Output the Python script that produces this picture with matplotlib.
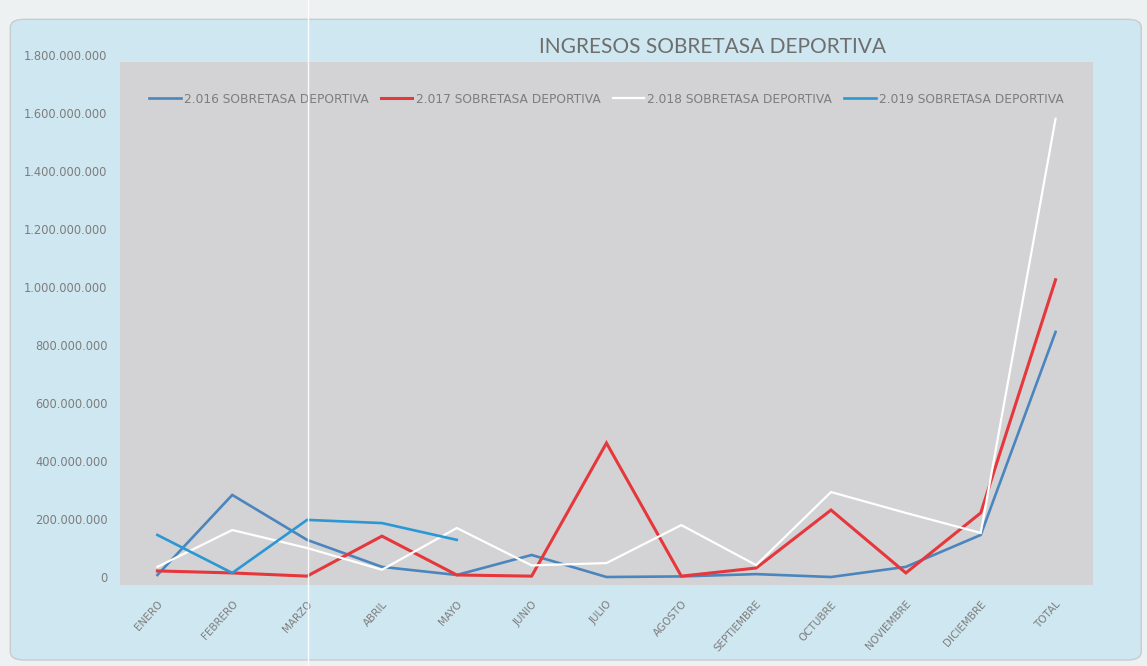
"""
Ingresos sobretasa deportiva 2016-2019, redrawn from a scanned Excel line chart
"""

import matplotlib
matplotlib.use("Agg")
import matplotlib.pyplot as plt
import numpy as np
from matplotlib.patches import FancyBboxPatch, Rectangle
from matplotlib.lines import Line2D

plt.rcParams['font.family'] = ['DejaVu Sans']

# months + total column
meses = ["ENERO", "FEBRERO", "MARZO", "ABRIL", "MAYO", "JUNIO", "JULIO",
         "AGOSTO", "SEPTIEMBRE", "OCTUBRE", "NOVIEMBRE", "DICIEMBRE", "TOTAL"]

# values, in millions of pesos
ingresos_2016 = [7, 283, 128, 35, 7, 76, 0, 2, 10, 0, 35, 145, 845]
ingresos_2017 = [21, 14, 3, 141, 7, 3, 462, 3, 31, 231, 14, 221, 1025]
ingresos_2018 = [35, 162, 100, 25, 169, 40, 48, 179, 41, 293, 221, 152, 1580]
ingresos_2019 = [145, 14, 197, 186, 128]  # only Jan-May reported

y_ticks = [0, 200, 400, 600, 800, 1000, 1200, 1400, 1600, 1800]

series = [
    ("2.016 SOBRETASA DEPORTIVA", ingresos_2016, "#4a86bd", 1.9),
    ("2.017 SOBRETASA DEPORTIVA", ingresos_2017, "#e5373c", 2.2),
    ("2.018 SOBRETASA DEPORTIVA", ingresos_2018, "#ffffff", 1.6),
    ("2.019 SOBRETASA DEPORTIVA", ingresos_2019, "#2b97d4", 1.9),
]

text_grey = "#7d7d7d"


def fmt_miles(v):
    # Spanish style thousands separator
    return f"{v * 1_000_000:,.0f}".replace(",", ".")


def main():
    fig = plt.figure(figsize=(11.47, 6.66), dpi=100)
    fig.patch.set_facecolor("#eef1f1")

    # light blue chart area with rounded corners
    frame = FancyBboxPatch((0.009, 0.009), 0.986, 0.962,
                           boxstyle="round,pad=0,rounding_size=0.012",
                           transform=fig.transFigure, facecolor="#cfe7f0",
                           edgecolor="#c8cccc", linewidth=1.0, zorder=-5)
    fig.patches.append(frame)

    ax = fig.add_axes([0.1046, 0.1216, 0.8483, 0.7958])
    ax.set_zorder(2)
    ax.set_facecolor("none")
    # grey plot area (a bit shorter than the axis range, as in the original)
    ax.add_patch(Rectangle((0, 0), 1, 0.987, transform=ax.transAxes,
                           facecolor="#d3d3d5", edgecolor="none", zorder=0))

    x = np.arange(len(meses))
    for label, vals, color, lw in series:
        ax.plot(x[:len(vals)], vals, color=color, linewidth=lw, label=label,
                solid_joinstyle="miter", zorder=3)

    ax.set_xlim(-0.5, len(meses) - 0.5)
    ax.set_ylim(-27.6, 1800)
    ax.set_yticks(y_ticks)
    ax.set_yticklabels([fmt_miles(v) for v in y_ticks], fontsize=8.3, color=text_grey)
    ax.set_xticks(x)
    ax.set_xticklabels(meses, rotation=48, ha="right", rotation_mode="anchor",
                       fontsize=7.5, color=text_grey)
    ax.tick_params(axis="both", length=0)
    ax.tick_params(axis="y", pad=9)
    ax.tick_params(axis="x", pad=10)
    for s in ax.spines.values():
        s.set_visible(False)

    leg = ax.legend(loc="upper center", bbox_to_anchor=(0.5, 0.95), ncol=4,
                    frameon=False, fontsize=8.8, handlelength=2.6,
                    handletextpad=0.25, columnspacing=1.0)
    for t in leg.get_texts():
        t.set_color(text_grey)

    fig.text(0.621, 0.929, "INGRESOS SOBRETASA DEPORTIVA", ha="center", va="center",
             fontsize=15, color="#6e6e6e", zorder=5, family=["Lato", "DejaVu Sans"])

    # scanner streak that runs across the whole page
    fig.add_artist(Line2D([0.2685, 0.2685], [0, 1], transform=fig.transFigure,
                          color="#ffffff", linewidth=1.0, alpha=0.9, zorder=10))

    fig.savefig("out.png", dpi=100, facecolor=fig.get_facecolor())


if __name__ == "__main__":
    main()
